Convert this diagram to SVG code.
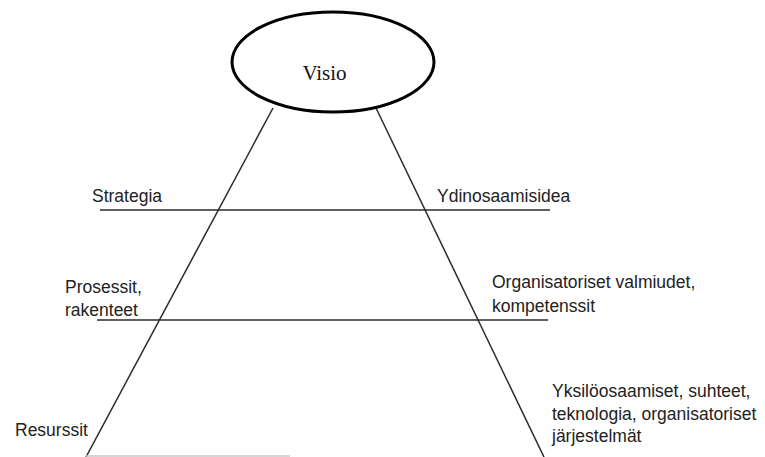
<svg xmlns="http://www.w3.org/2000/svg" width="765" height="457" viewBox="0 0 765 457">
<style>
.lbl{font-family:"Liberation Sans",Arial,sans-serif;font-size:17.5px;fill:#222}
.ln{stroke:#2a2a2a;stroke-width:1.5;fill:none}
</style>
<rect width="765" height="457" fill="#fff"/>
<g id="connectors">
<line class="ln" x1="273" y1="108" x2="86" y2="457"/>
<line class="ln" x1="376" y1="108" x2="544" y2="457"/>
<line class="ln" x1="100" y1="210" x2="550" y2="210"/>
<line class="ln" x1="97" y1="320" x2="548" y2="320"/>
<line x1="86" y1="456" x2="290" y2="456" stroke="#c8c8c8" stroke-width="1.5"/>
</g>
<g id="visio">
<ellipse cx="333" cy="62" rx="101" ry="50" fill="#fff" stroke="#000" stroke-width="3"/>
<text x="324.5" y="80" text-anchor="middle" font-family="'Liberation Serif','Times New Roman',serif" font-size="21" fill="#111">Visio</text>
</g>
<g id="strategia"><text class="lbl" x="92" y="202">Strategia</text></g>
<g id="ydinosaamisidea"><text class="lbl" x="437" y="202">Ydinosaamisidea</text></g>
<g id="prosessit"><text class="lbl" x="65" y="293">Prosessit,</text><text class="lbl" x="65" y="316">rakenteet</text></g>
<g id="organisatoriset"><text class="lbl" x="492" y="288">Organisatoriset valmiudet,</text><text class="lbl" x="492" y="312">kompetenssit</text></g>
<g id="resurssit"><text class="lbl" x="15" y="436">Resurssit</text></g>
<g id="yksilo"><text class="lbl" x="552" y="397">Yksilöosaamiset, suhteet,</text><text class="lbl" x="552" y="420">teknologia, organisatoriset</text><text class="lbl" x="552" y="442">järjestelmät</text></g>
</svg>
